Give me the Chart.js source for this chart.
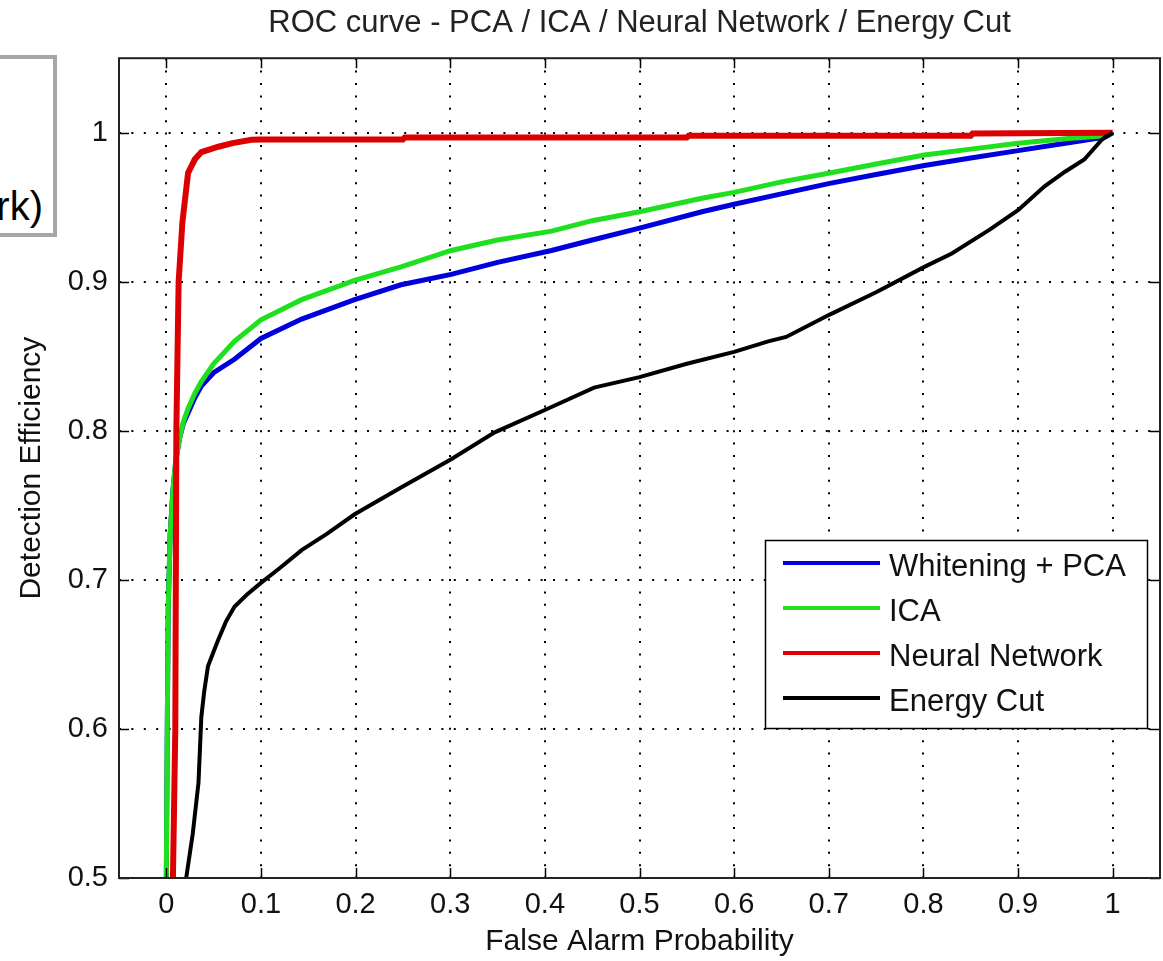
<!DOCTYPE html>
<html>
<head>
<meta charset="utf-8">
<script src="https://cdn.jsdelivr.net/npm/chart.js@4/dist/chart.umd.min.js"></script>
<style>
  html, body { margin: 0; padding: 0; background: #fff; overflow: hidden; }
  #wrap { position: relative; width: 1163px; height: 961px; }
  #frag { position: absolute; left: -20px; top: 55px; width: 69px; height: 174px;
          border: 4px solid #a6a6a6; background: #fff; }
  #frag span { position: absolute; right: 10px; top: 127px; font: 40px/40px "Liberation Sans", Arial, sans-serif; color: #000; }
</style>
</head>
<body>
<div id="wrap">
  <canvas id="c" width="1163" height="961"></canvas>
  <div id="frag"><span>rk)</span></div>
</div>
<script>
// ---- data ----
const chartTitle = 'ROC curve - PCA / ICA / Neural Network / Energy Cut';
const xAxisTitle = 'False Alarm Probability';
const yAxisTitle = 'Detection Efficiency';
const seriesNames = ['Whitening + PCA', 'ICA', 'Neural Network', 'Energy Cut'];
const xTickValues = [0, 0.1, 0.2, 0.3, 0.4, 0.5, 0.6, 0.7, 0.8, 0.9, 1];
const yTickValues = [0.5, 0.6, 0.7, 0.8, 0.9, 1];

const pcaX = [0, 0.001, 0.002, 0.004, 0.007, 0.010, 0.014, 0.018, 0.023, 0.030, 0.037, 0.050, 0.072, 0.100, 0.143, 0.199, 0.248, 0.301, 0.350, 0.407, 0.450, 0.500, 0.566, 0.600, 0.650, 0.701, 0.750, 0.801, 0.850, 0.900, 0.950, 0.992, 1.000];
const pcaY = [0.5, 0.6, 0.68, 0.73, 0.76, 0.78, 0.795, 0.805, 0.812, 0.822, 0.830, 0.839, 0.848, 0.862, 0.875, 0.888, 0.898, 0.905, 0.913, 0.921, 0.928, 0.936, 0.947, 0.952, 0.959, 0.966, 0.972, 0.978, 0.983, 0.988, 0.993, 0.997, 1.0];

const icaX = [0, 0.001, 0.002, 0.004, 0.007, 0.010, 0.014, 0.018, 0.023, 0.030, 0.037, 0.050, 0.072, 0.100, 0.143, 0.199, 0.248, 0.301, 0.350, 0.407, 0.450, 0.500, 0.566, 0.600, 0.650, 0.701, 0.750, 0.801, 0.850, 0.900, 0.950, 0.992, 1.000];
const icaY = [0.5, 0.6, 0.68, 0.73, 0.76, 0.78, 0.795, 0.806, 0.815, 0.825, 0.833, 0.845, 0.860, 0.8745, 0.888, 0.901, 0.910, 0.921, 0.928, 0.934, 0.941, 0.947, 0.956, 0.960, 0.967, 0.973, 0.979, 0.985, 0.989, 0.993, 0.996, 0.998, 1.0];

const nnX = [0.007, 0.0095, 0.0106, 0.013, 0.017, 0.023, 0.030, 0.037, 0.055, 0.070, 0.090, 0.100, 0.250, 0.252, 0.550, 0.552, 0.850, 0.852, 1.0];
const nnY = [0.5, 0.6, 0.8, 0.9, 0.94, 0.973, 0.982, 0.987, 0.9906, 0.993, 0.9953, 0.9955, 0.9955, 0.9968, 0.9968, 0.998, 0.998, 0.9995, 1.0];

const ecX = [0.021, 0.028, 0.034, 0.037, 0.040, 0.044, 0.050, 0.055, 0.063, 0.072, 0.085, 0.100, 0.120, 0.143, 0.170, 0.199, 0.248, 0.301, 0.347, 0.400, 0.452, 0.500, 0.550, 0.600, 0.636, 0.655, 0.701, 0.750, 0.801, 0.830, 0.870, 0.900, 0.928, 0.950, 0.970, 0.988, 0.992, 1.0];
const ecY = [0.5, 0.53, 0.564, 0.608, 0.625, 0.642, 0.652, 0.660, 0.672, 0.682, 0.690, 0.698, 0.708, 0.720, 0.731, 0.744, 0.762, 0.781, 0.799, 0.814, 0.829, 0.836, 0.845, 0.853, 0.860, 0.863, 0.878, 0.893, 0.910, 0.919, 0.935, 0.948, 0.964, 0.974, 0.982, 0.995, 0.997, 1.0];

// ---- styling ----
const FONT = '"Liberation Sans", Arial, sans-serif';
const TXT = '#111';
const colors = ['#0000dd', '#1ee01e', '#dd0000', '#000000'];
const widths = [5, 5, 6, 4];
const drawOrder = [4, 3, 2, 1]; // lower = drawn on top

const pts = (xs, ys) => xs.map((x, i) => ({ x: x, y: ys[i] }));
const seriesData = [pts(pcaX, pcaY), pts(icaX, icaY), pts(nnX, nnY), pts(ecX, ecY)];
const fmt = v => String(Number(v.toFixed(1)));

const frameAndTicks = {
  id: 'frameAndTicks',
  afterDatasetsDraw(chart) {
    const { ctx, chartArea: a, scales } = chart;
    ctx.save();
    ctx.strokeStyle = '#000';
    ctx.lineWidth = 1.5;
    const tl = 10;
    ctx.beginPath();
    xTickValues.forEach(v => {
      const px = Math.round(scales.x.getPixelForValue(v)) + 0.5;
      ctx.moveTo(px, a.bottom); ctx.lineTo(px, a.bottom - tl);
      ctx.moveTo(px, a.top); ctx.lineTo(px, a.top + tl);
    });
    yTickValues.forEach(v => {
      const py = Math.round(scales.y.getPixelForValue(v)) + 0.5;
      ctx.moveTo(a.left, py); ctx.lineTo(a.left + tl, py);
      ctx.moveTo(a.right, py); ctx.lineTo(a.right - tl, py);
    });
    ctx.stroke();
    ctx.lineWidth = 2;
    ctx.strokeStyle = '#222';
    ctx.strokeRect(a.left, a.top, a.right - a.left, a.bottom - a.top);
    ctx.restore();
  },
  afterDraw(chart) {
    const { ctx, chartArea: a } = chart;
    const bx = a.right - 395, by = a.bottom - 338, bw = 382, bh = 188;
    ctx.save();
    ctx.fillStyle = '#fff';
    ctx.fillRect(bx, by, bw, bh);
    ctx.strokeStyle = '#000';
    ctx.lineWidth = 1.5;
    ctx.strokeRect(bx + 0.5, by + 0.5, bw, bh);
    ctx.font = '31px ' + FONT;
    ctx.textBaseline = 'middle';
    ctx.fillStyle = TXT;
    chart.data.datasets.forEach((ds, i) => {
      const y = by + 23 + i * 45;
      ctx.strokeStyle = ds.borderColor;
      ctx.lineWidth = 4;
      ctx.beginPath();
      ctx.moveTo(bx + 18, y); ctx.lineTo(bx + 115, y);
      ctx.stroke();
      ctx.fillText(ds.label, bx + 124, y + 4);
    });
    ctx.restore();
  }
};

new Chart(document.getElementById('c'), {
  type: 'line',
  data: {
    datasets: seriesNames.map((name, i) => ({
      label: name,
      data: seriesData[i],
      borderColor: colors[i],
      backgroundColor: colors[i],
      borderWidth: widths[i],
      order: drawOrder[i],
      pointRadius: 0,
      tension: 0,
      fill: false
    }))
  },
  options: {
    responsive: false,
    animation: false,
    devicePixelRatio: 1,
    layout: { padding: { left: 0, right: 3, top: 0, bottom: 0 } },
    plugins: {
      legend: { display: false },
      tooltip: { enabled: false },
      title: {
        display: true, text: chartTitle, color: '#222', fullSize: false,
        font: { family: FONT, size: 31, weight: 'normal' },
        padding: { top: 5, bottom: 16 }
      }
    },
    scales: {
      x: {
        type: 'linear', min: -0.05, max: 1.05,
        afterFit: s => { s.height = 83; },
        afterBuildTicks: s => { s.ticks = xTickValues.map(v => ({ value: v })); },
        ticks: { color: TXT, font: { family: FONT, size: 29 }, padding: 10, maxRotation: 0, autoSkip: false, callback: v => fmt(v) },
        grid: { color: '#000', lineWidth: 2, drawTicks: false },
        border: { display: false, dash: [2, 10.4] },
        title: { display: true, text: xAxisTitle, color: TXT, font: { family: FONT, size: 30 }, padding: { top: 0, bottom: 1 } }
      },
      y: {
        type: 'linear', min: 0.5, max: 1.05,
        afterFit: s => { s.width = 119; },
        afterBuildTicks: s => { s.ticks = yTickValues.map(v => ({ value: v })); },
        ticks: { color: TXT, font: { family: FONT, size: 29 }, padding: 11, autoSkip: false, callback: v => fmt(v) },
        grid: { color: '#000', lineWidth: 2, drawTicks: false },
        border: { display: false, dash: [2, 10.4] },
        title: { display: true, text: yAxisTitle, color: TXT, font: { family: FONT, size: 30 }, padding: { top: 14, bottom: 0 } }
      }
    }
  },
  plugins: [frameAndTicks]
});
</script>
</body>
</html>
